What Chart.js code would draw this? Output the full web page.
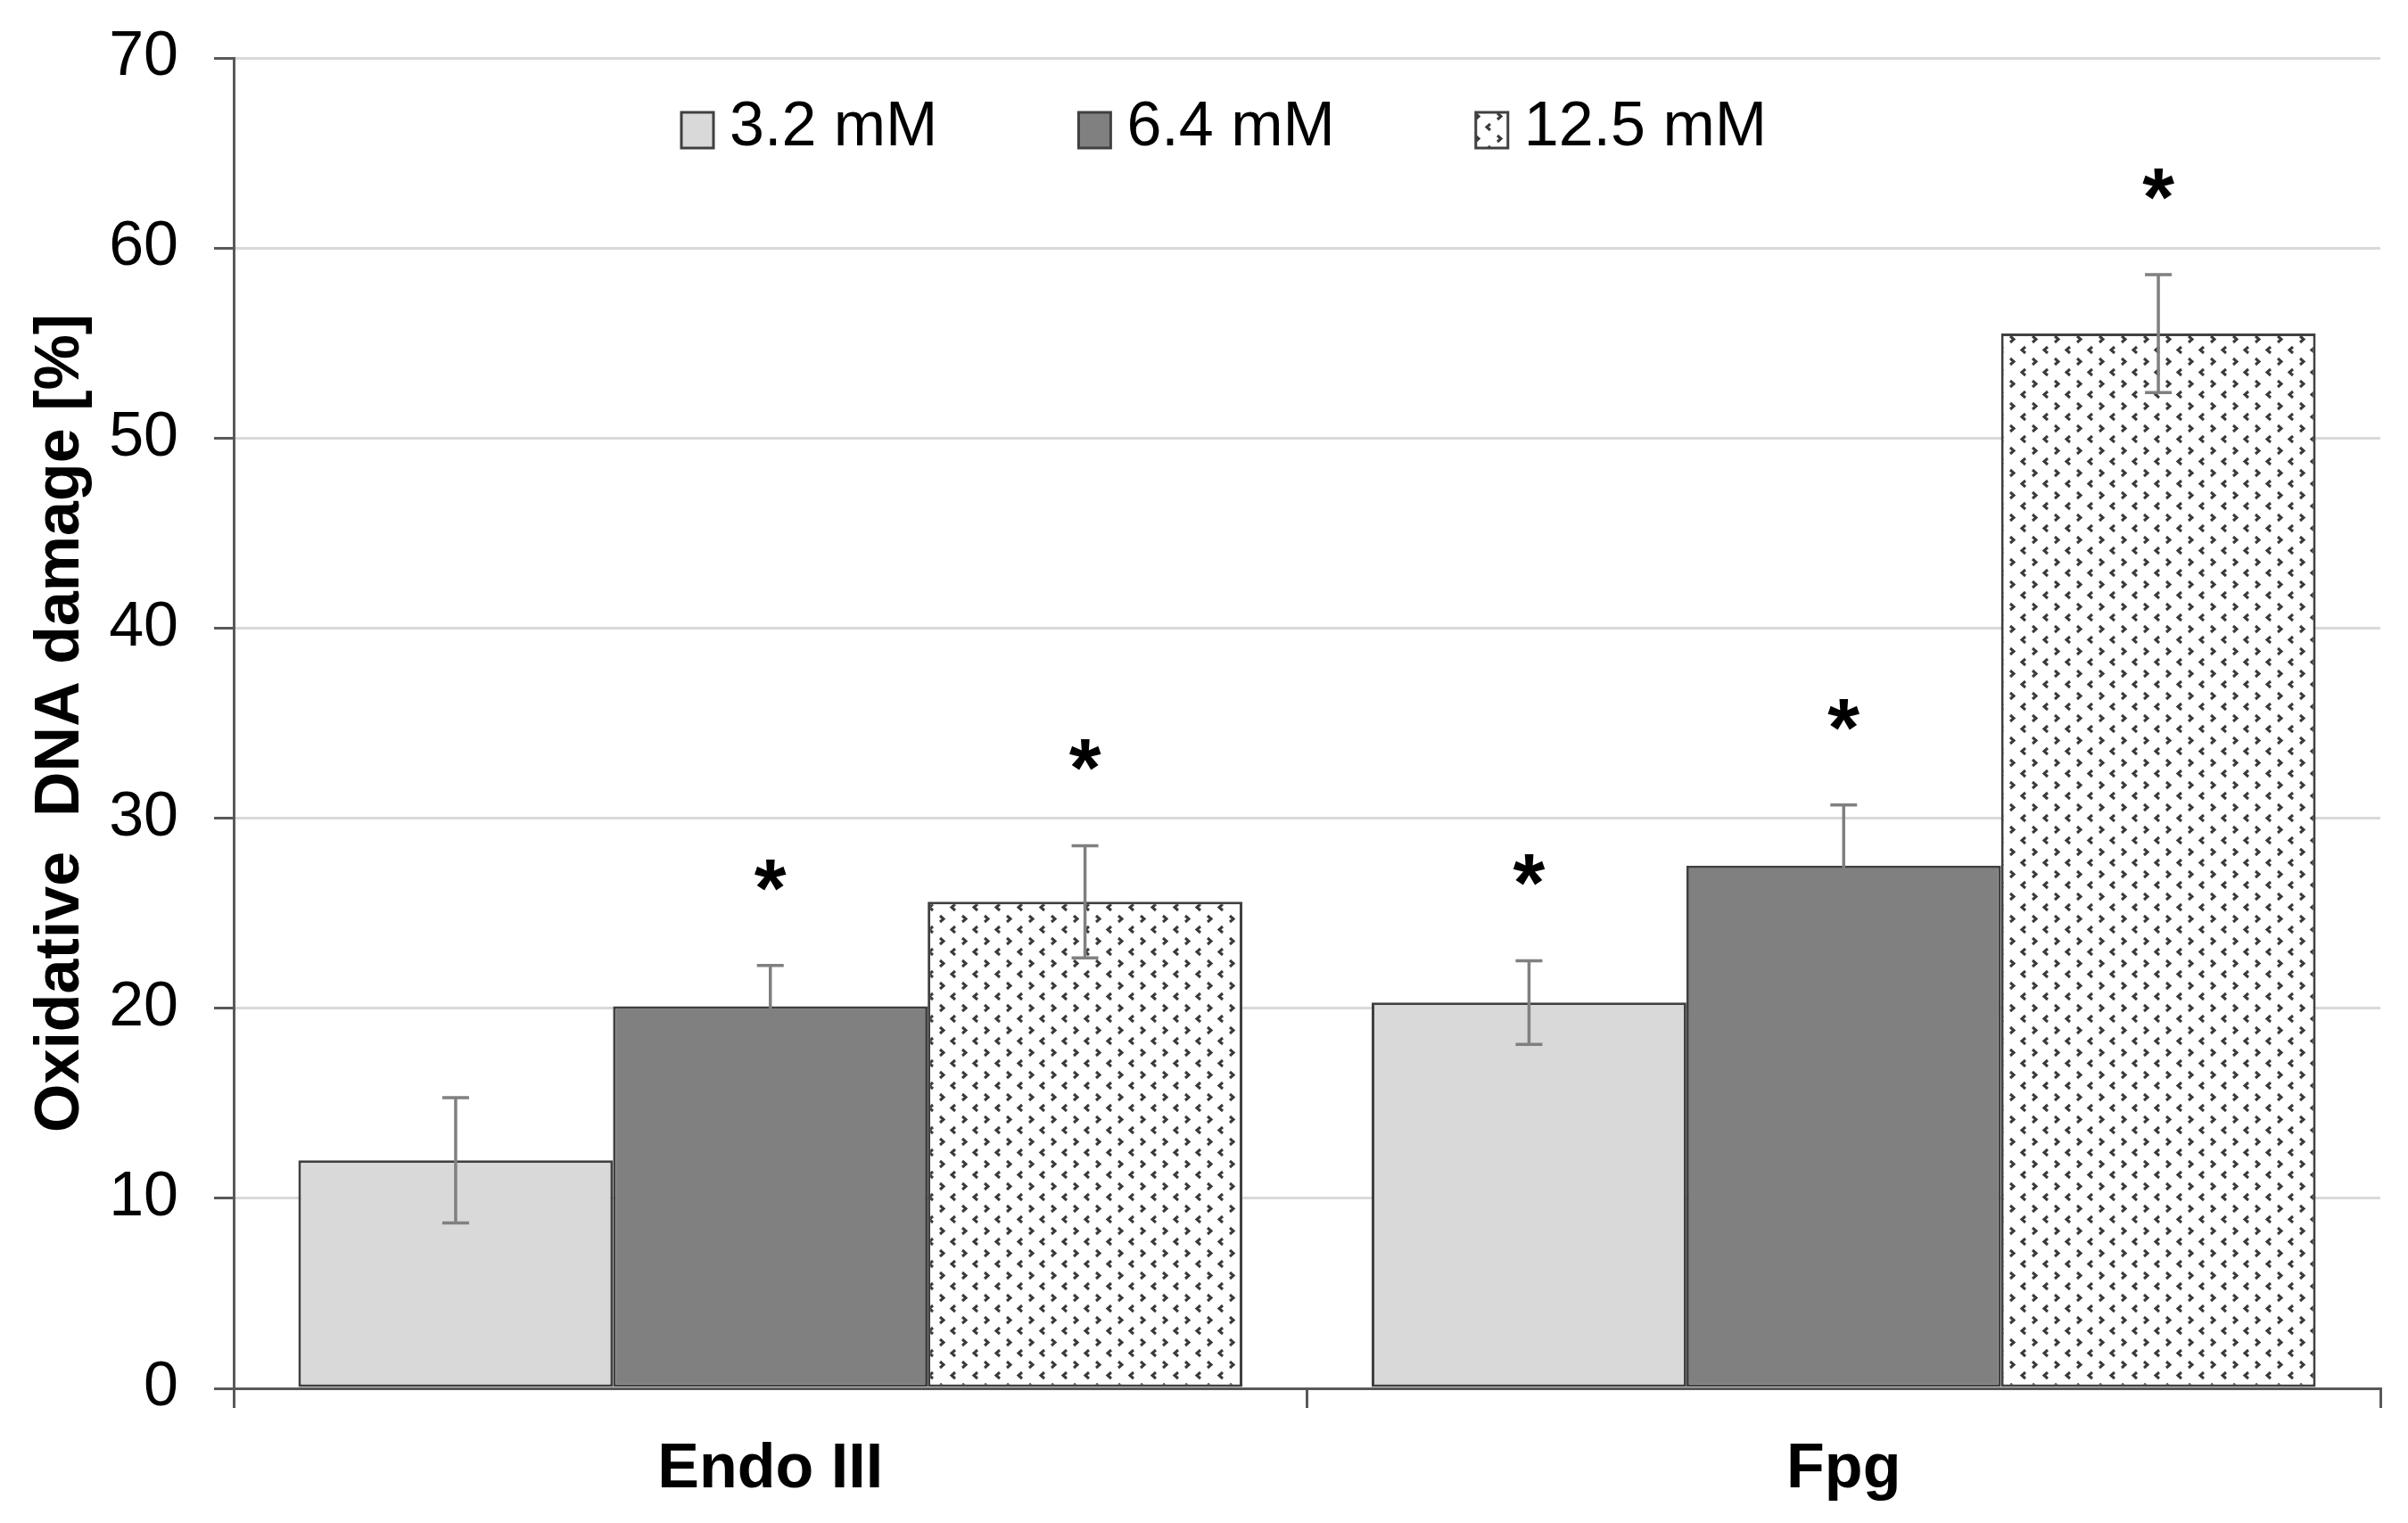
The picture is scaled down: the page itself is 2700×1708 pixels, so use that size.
<!DOCTYPE html>
<html>
<head>
<meta charset="utf-8">
<script src="https://cdn.jsdelivr.net/npm/chart.js@4"></script>
<style>
html, body { margin: 0; padding: 0; background: #fff; }
</style>
</head>
<body>
<canvas id="myChart" width="2700" height="1708"></canvas>
<script>
// data
const categories = ['Endo III', 'Fpg'];
const seriesLabels = ['3.2 mM', '6.4 mM', '12.5 mM'];
const values32 = [12.0, 20.3];
const values64 = [20.1, 27.5];
const values125 = [25.6, 55.5];
const errors32 = [3.3, 2.2];
const errors64 = [2.15, 3.2];
const errors125 = [2.95, 3.1];
const signif32 = [false, true];
const signif64 = [true, true];
const signif125 = [true, true];
const yTicks = [0, 10, 20, 30, 40, 50, 60, 70];

const FONT = "'Liberation Sans', Arial, sans-serif";
Chart.defaults.font.family = FONT;
Chart.defaults.color = '#000';

function dottedPattern() {
    var c = document.createElement('canvas');
    c.width = 25; c.height = 25;
    var g = c.getContext('2d');
    g.fillStyle = '#fff';
    g.fillRect(0, 0, 25, 25);
    g.strokeStyle = '#3a3a3a';
    g.lineWidth = 3;
    g.beginPath();
    g.moveTo(4, 2); g.lineTo(8, 5.5); g.lineTo(4, 9);
    g.moveTo(21, 14); g.lineTo(17, 17.5); g.lineTo(21, 21);
    g.stroke();
    return g.createPattern(c, 'repeat');
}

var extras = {
    id: 'extras',
    afterDatasetsDraw(chart) {
        var ctx = chart.ctx;
        var y = chart.scales.y;
        ctx.save();
        // error bars + significance marks
        chart.data.datasets.forEach(function (ds, i) {
            var meta = chart.getDatasetMeta(i);
            meta.data.forEach(function (bar, j) {
                var v = ds.data[j], e = ds.errors[j];
                var yt = y.getPixelForValue(v + e), yb = y.getPixelForValue(v - e);
                ctx.strokeStyle = '#808080';
                ctx.lineWidth = 3.5;
                ctx.beginPath();
                ctx.moveTo(bar.x, yt); ctx.lineTo(bar.x, yb);
                ctx.moveTo(bar.x - 15, yt); ctx.lineTo(bar.x + 15, yt);
                ctx.moveTo(bar.x - 15, yb); ctx.lineTo(bar.x + 15, yb);
                ctx.stroke();
                if (ds.signif[j]) {
                    ctx.fillStyle = '#000';
                    ctx.font = 'bold 92px ' + FONT;
                    ctx.textAlign = 'center';
                    ctx.textBaseline = 'alphabetic';
                    ctx.fillText('*', bar.x, yt - 95 + 40);
                }
            });
        });
        // legend inside plot area
        ctx.font = '70px ' + FONT;
        ctx.textAlign = 'left';
        ctx.textBaseline = 'middle';
        var x = 764, cy = 146;
        chart.data.datasets.forEach(function (ds) {
            ctx.fillStyle = ds.backgroundColor;
            ctx.fillRect(x, cy - 20, 36, 40);
            ctx.strokeStyle = '#404040';
            ctx.lineWidth = 3;
            ctx.strokeRect(x, cy - 20, 36, 40);
            ctx.fillStyle = '#000';
            ctx.fillText(ds.label, x + 54, cy - 2);
            x += 54 + ctx.measureText(ds.label).width + 158;
        });
        ctx.restore();
    }
};

var ctx = document.getElementById('myChart').getContext('2d');
var myChart = new Chart(ctx, {
    type: 'bar',
    data: {
        labels: categories,
        datasets: [{
            label: seriesLabels[0],
            data: values32,
            errors: errors32,
            signif: signif32,
            backgroundColor: '#d9d9d9'
        }, {
            label: seriesLabels[1],
            data: values64,
            errors: errors64,
            signif: signif64,
            backgroundColor: '#808080'
        }, {
            label: seriesLabels[2],
            data: values125,
            errors: errors125,
            signif: signif125,
            backgroundColor: dottedPattern()
        }]
    },
    options: {
        responsive: false,
        animation: false,
        devicePixelRatio: 1,
        layout: { padding: { top: 65, right: 31, left: 0, bottom: 0 } },
        datasets: {
            bar: {
                categoryPercentage: 0.8795,
                barPercentage: 1.0,
                borderColor: '#404040',
                borderWidth: 3,
                borderSkipped: false
            }
        },
        plugins: {
            legend: { display: false },
            tooltip: { enabled: false }
        },
        scales: {
            x: {
                afterFit: function (s) { s.height = 151; s.paddingLeft = 0; s.paddingRight = 0; },
                grid: { drawOnChartArea: false, tickLength: 22, tickColor: '#595959', lineWidth: 3 },
                border: { color: '#595959', width: 3 },
                ticks: { font: { size: 70, weight: 'bold' }, padding: 28 }
            },
            y: {
                min: 0,
                max: 70,
                afterFit: function (s) { s.width = 262; s.paddingTop = 0; s.paddingBottom = 0; },
                afterBuildTicks: function (s) { s.ticks = yTicks.map(function (v) { return { value: v }; }); },
                grid: { color: '#d9d9d9', tickColor: '#595959', tickLength: 22, lineWidth: 3 },
                border: { color: '#595959', width: 3 },
                ticks: { font: { size: 70 }, padding: 40 },
                title: {
                    display: true,
                    text: 'Oxidative  DNA damage [%]',
                    font: { size: 70, weight: 'bold' },
                    padding: { top: 27, bottom: 0 }
                }
            }
        }
    },
    plugins: [extras]
});
</script>
</body>
</html>
